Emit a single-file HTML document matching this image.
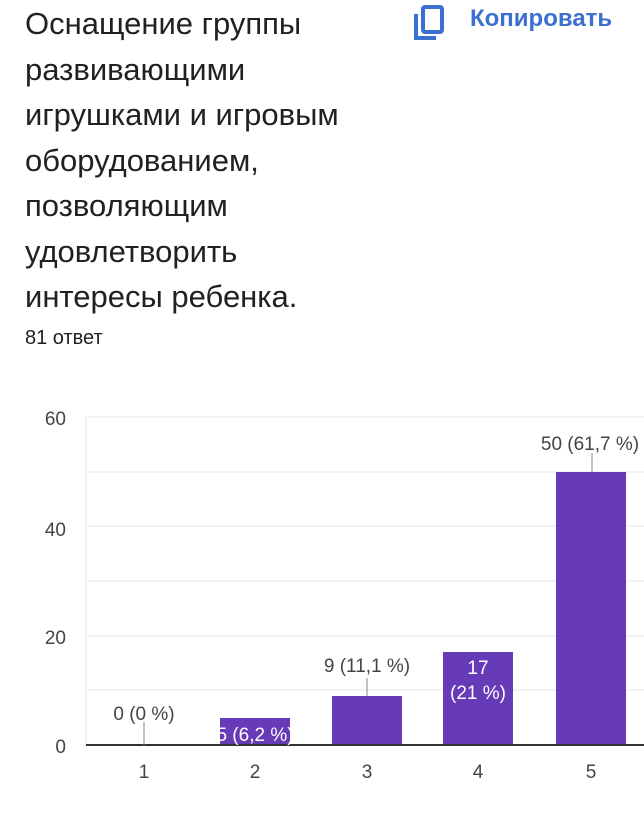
<!DOCTYPE html><html><head><meta charset="utf-8"><style>
body{margin:0;width:644px;height:830px;background:#fff;overflow:hidden;font-family:"Liberation Sans",sans-serif;position:relative}
.t{position:absolute;left:25px;top:1px;font-size:31px;line-height:45.5px;color:#202124;width:420px}
.c{position:absolute;left:470px;top:5px;font-size:24px;color:#3b6fd0;font-weight:bold}
.n{position:absolute;left:25px;top:327px;font-size:20px;color:#202124}
</style></head><body>
<div class="t">Оснащение группы<br>развивающими<br>игрушками и игровым<br>оборудованием,<br>позволяющим<br>удовлетворить<br>интересы ребенка.</div>
<svg style="position:absolute;left:412px;top:4px" width="34" height="38"><rect x="11" y="3" width="19" height="25" rx="2" fill="none" stroke="#3b6fd0" stroke-width="4"/><path d="M4 10V34H24" fill="none" stroke="#3b6fd0" stroke-width="4"/></svg>
<div class="c">Копировать</div>
<div class="n">81 ответ</div>
<svg style="position:absolute;left:0;top:0" width="644" height="830" font-family="Liberation Sans" font-size="19" fill="#444">
<g stroke="#eee" stroke-width="1.5"><line x1="86" x2="644" y1="417" y2="417"/><line x1="86" x2="644" y1="472" y2="472"/><line x1="86" x2="644" y1="526" y2="526"/><line x1="86" x2="644" y1="581" y2="581"/><line x1="86" x2="644" y1="636" y2="636"/><line x1="86" x2="644" y1="690" y2="690"/><line x1="86" x2="86" y1="417" y2="745"/></g>
<g text-anchor="end"><text x="66" y="425">60</text><text x="66" y="536">40</text><text x="66" y="644">20</text><text x="66" y="753">0</text></g>
<g fill="#673ab7"><rect x="220" y="718" width="70" height="27"/><rect x="332" y="696" width="70" height="49"/><rect x="443" y="652" width="70" height="93"/><rect x="556" y="472" width="70" height="273"/></g>
<line x1="86" x2="644" y1="745" y2="745" stroke="#333" stroke-width="2"/>
<g stroke="#888" stroke-width="1"><line x1="144" x2="144" y1="722" y2="745"/><line x1="367" x2="367" y1="678" y2="696"/><line x1="592" x2="592" y1="453" y2="472"/></g>
<g text-anchor="middle"><text x="144" y="720">0 (0 %)</text><text x="367" y="672">9 (11,1 %)</text><text x="590" y="450">50 (61,7 %)</text>
<text x="255" y="741" fill="#fff">5 (6,2 %)</text><text x="478" y="674" fill="#fff">17</text><text x="478" y="699" fill="#fff">(21 %)</text>
<text x="144" y="778">1</text><text x="255" y="778">2</text><text x="367" y="778">3</text><text x="478" y="778">4</text><text x="591" y="778">5</text></g>
</svg>
</body></html>
